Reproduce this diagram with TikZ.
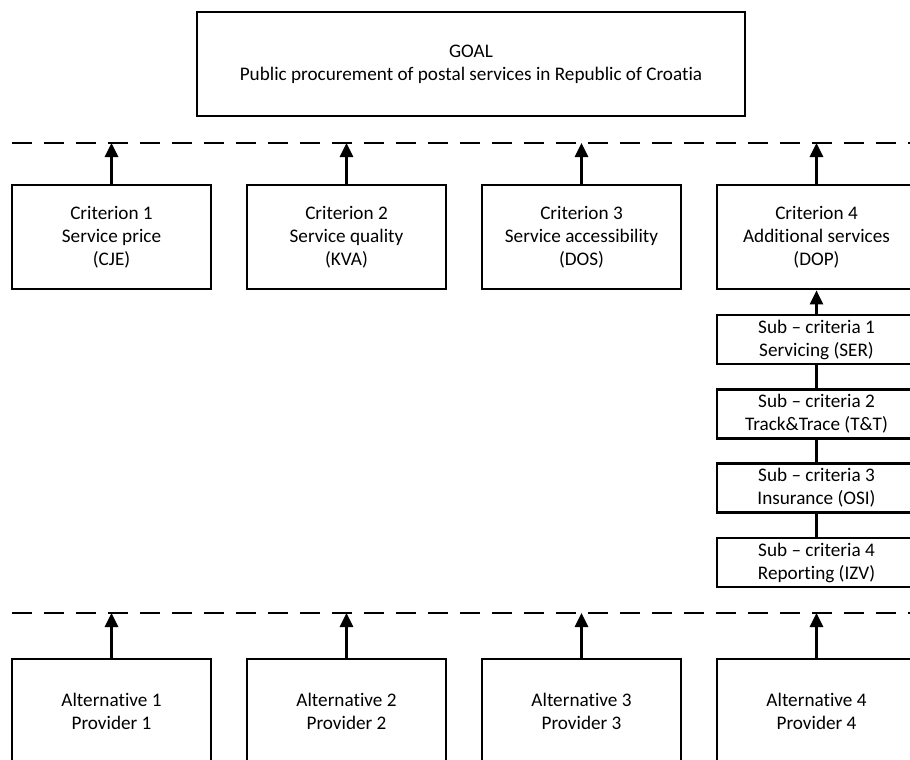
\documentclass[tikz,border=0pt]{standalone}
\usepackage{fontspec}
\setmainfont{Carlito}[Ligatures=NoCommon]
\usetikzlibrary{arrows.meta}
\tikzset{
  box/.style={draw,line width=2pt,rectangle,fill=white,align=center,inner sep=2pt,minimum width=149.25pt,minimum height=78pt,font=\fontsize{14.4}{17.25}\selectfont},
  subbox/.style={box,minimum height=36.75pt},
  goalbox/.style={box,minimum width=411pt},
  level/.style={line width=2.2pt,dash pattern=on 15pt off 9pt},
  up/.style={line width=2pt,-{Triangle[width=9.75pt,length=10.5pt]}},
  link/.style={line width=2pt},
}
\begin{document}
\begin{tikzpicture}[x=0.75pt,y=-0.75pt]
  \clip (0,0) rectangle (910,760);
  \fill[white] (0,0) rectangle (910,760);
  % goal
  \node[goalbox] (goal) at (471,64) {GOAL\\Public procurement of postal services in Republic of Croatia};
  % levels
  \draw[level] (12,143) -- (920,143);
  \draw[level] (12,613) -- (920,613);
  \coordinate (t1) at (111.5,143);
  \coordinate (t2) at (346.5,143);
  \coordinate (t3) at (581.5,143);
  \coordinate (t4) at (816.5,143);
  \coordinate (b1) at (111.5,613);
  \coordinate (b2) at (346.5,613);
  \coordinate (b3) at (581.5,613);
  \coordinate (b4) at (816.5,613);
  % criteria
  \node[box] (crit1) at (111.5,237) {Criterion 1\\Service price\\(CJE)};
  \node[box] (crit2) at (346.5,237) {Criterion 2\\Service quality\\(KVA)};
  \node[box] (crit3) at (581.5,237) {Criterion 3\\Service accessibility\\(DOS)};
  \node[box] (crit4) at (816.5,237) {Criterion 4\\Additional services\\(DOP)};
  \draw[up] (crit1.north) -- (t1);
  \draw[up] (crit2.north) -- (t2);
  \draw[up] (crit3.north) -- (t3);
  \draw[up] (crit4.north) -- (t4);
  % sub-criteria
  \node[subbox] (sub1) at (816.5,339.5) {Sub -- criteria 1\\Servicing (SER)};
  \node[subbox] (sub2) at (816.5,414) {Sub -- criteria 2\\Track\&Trace (T\&T)};
  \node[subbox] (sub3) at (816.5,488) {Sub -- criteria 3\\Insurance (OSI)};
  \node[subbox] (sub4) at (816.5,562.5) {Sub -- criteria 4\\Reporting (IZV)};
  \draw[up] (sub1.north) -- (crit4.south);
  \draw[link] (sub1.south) -- (sub2.north);
  \draw[link] (sub2.south) -- (sub3.north);
  \draw[link] (sub3.south) -- (sub4.north);
  % alternatives
  \node[box] (alt1) at (111.5,711) {Alternative 1\\Provider 1};
  \node[box] (alt2) at (346.5,711) {Alternative 2\\Provider 2};
  \node[box] (alt3) at (581.5,711) {Alternative 3\\Provider 3};
  \node[box] (alt4) at (816.5,711) {Alternative 4\\Provider 4};
  \draw[up] (alt1.north) -- (b1);
  \draw[up] (alt2.north) -- (b2);
  \draw[up] (alt3.north) -- (b3);
  \draw[up] (alt4.north) -- (b4);
\end{tikzpicture}
\end{document}
